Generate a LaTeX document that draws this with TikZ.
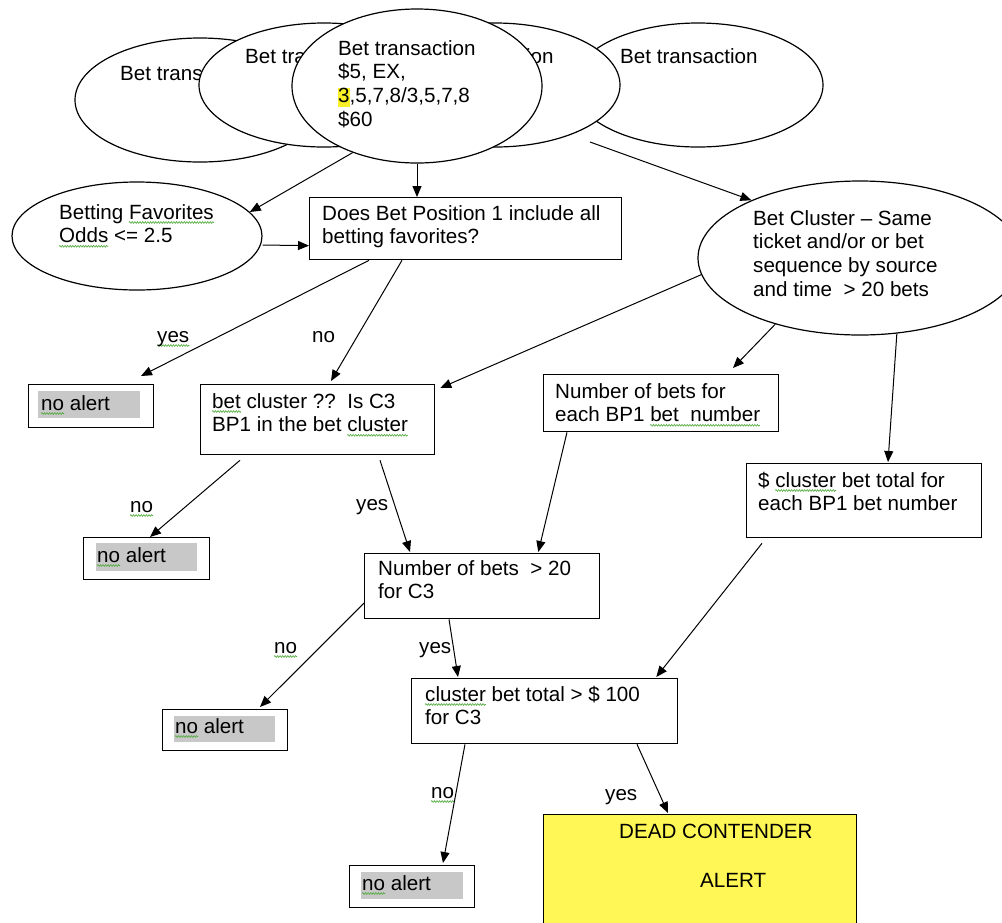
\documentclass[tikz,border=0pt]{standalone}
\usepackage{fontspec}
\setmainfont{Liberation Sans}
\usetikzlibrary{shapes.geometric,arrows.meta,calc,decorations.pathmorphing}
\definecolor{hly}{RGB}{250,240,40}
\definecolor{alerty}{RGB}{255,247,85}
\definecolor{hlgrey}{RGB}{200,200,200}
\definecolor{sqgreen}{RGB}{80,170,60}
\tikzset{
 ell/.style={ellipse, draw, line width=1.2pt, fill=white, inner sep=0pt, minimum width=250pt, minimum height=124pt},
 box/.style={rectangle, draw, line width=1.3pt, inner sep=0pt, anchor=north west},
 txt/.style={anchor=base west, inner sep=0pt, font=\fontsize{20.6}{23.8}\selectfont},
 arr/.style={line width=1pt, -{Triangle[length=11pt,width=9pt]}},
 sqline/.style={sqgreen, line width=0.6pt, decorate, decoration={zigzag, amplitude=0.9pt, segment length=2.6pt}},
}
\newlength\sqw
\newcommand\sq[1]{\settowidth\sqw{#1}\tikz[overlay,baseline=0pt]\draw[sqline](0pt,-3.5pt)--(\sqw,-3.5pt);#1}
\newcommand\hlthree{{\setlength\fboxsep{0pt}\colorbox{hly}{\rule[-4pt]{0pt}{17pt}3}}}
\newcommand\ml[1]{\vtop{\baselineskip=23.8pt\halign{##\hfil\cr#1\crcr}}}
\begin{document}
\begin{tikzpicture}[x={(1pt,0)}, y={(0,-1pt)}]
\useasboundingbox (0,0) rectangle (1002,922);
\clip (0,0) rectangle (1002,922);
% top ellipses
\node[ell] (e1) at (200,100) {};
\node[txt] (t1) at (120,80) {Bet transaction};
\node[ell] (e2) at (324,85) {};
\node[txt] (t2) at (245,63) {Bet transaction};
\node[ell] (e5) at (698,85) {};
\node[txt] (t5) at (620,63) {Bet transaction};
\node[ell] (e4) at (495,85) {};
\node[txt] (t4) at (416,63) {Bet transaction};
\node[ell, minimum height=154pt] (e3) at (417,86) {};
\node[txt] (t3) at (338,55) {\ml{Bet transaction\cr\$5, EX,\cr\hlthree,5,7,8/3,5,7,8\cr\$60}};
% other ellipses
\node[ell, minimum height=108pt] (e6) at (137,236) {};
\node[txt] (t6) at (59,219) {\ml{Betting \sq{Favorites}\cr\sq{Odds} <= 2.5}};
\node[ell, minimum width=324pt, minimum height=154pt] (e7) at (860,258) {};
\node[txt] (t7) at (753,225) {\ml{Bet Cluster \textendash{} Same\cr ticket and/or or bet\cr sequence by source\cr and time\ \ > 20 bets}};
% boxes
\node[box, minimum width=312pt, minimum height=62pt] (does) at (309,197) {};
\node[txt] (tdoes) at (322,220) {\ml{Does Bet Position 1 include all\cr betting favorites?}};
\node[box, minimum width=125pt, minimum height=43pt] (na1) at (28,384) {};
\fill[hlgrey] ($(na1.north west)+(10,7)$) rectangle ($(na1.north west)+(112,34)$);
\node[txt] (tna1) at (41,410) {\sq{no} alert};
\node[box, minimum width=234pt, minimum height=70pt] (betcl) at (200,384) {};
\node[txt] (tbetcl) at (212,408) {\ml{\sq{bet} cluster ??\ \ Is C3\cr BP1 in the bet \sq{cluster}}};
\node[box, minimum width=235pt, minimum height=57pt] (nbp1) at (543,374) {};
\node[txt] (tnbp1) at (555,398) {\ml{Number of bets for\cr each BP1 \sq{bet\ \ number}}};
\node[box, minimum width=235pt, minimum height=74pt] (dol) at (746,463) {};
\node[txt] (tdol) at (758,487) {\ml{\$ \sq{cluster} bet total for\cr each BP1 bet number}};
\node[box, minimum width=126pt, minimum height=42pt] (na2) at (83,537) {};
\fill[hlgrey] ($(na2.north west)+(13,6)$) rectangle ($(na2.north west)+(114,34)$);
\node[txt] (tna2) at (97,562) {\sq{no} alert};
\node[box, minimum width=235pt, minimum height=65pt] (n20) at (364,553) {};
\node[txt] (tn20) at (378,575) {\ml{Number of bets\ \ > 20\cr for C3}};
\node[box, minimum width=125pt, minimum height=41pt] (na3) at (162,709) {};
\fill[hlgrey] ($(na3.north west)+(12,7)$) rectangle ($(na3.north west)+(113,33)$);
\node[txt] (tna3) at (175,733) {\sq{no} alert};
\node[box, minimum width=266pt, minimum height=65pt] (clus) at (411,678) {};
\node[txt] (tclus) at (425,701) {\ml{\sq{cluster} bet total > \$ 100\cr for C3}};
\node[box, minimum width=125pt, minimum height=42pt] (na4) at (349,865) {};
\fill[hlgrey] ($(na4.north west)+(12,7)$) rectangle ($(na4.north west)+(114,34)$);
\node[txt] (tna4) at (362,890) {\sq{no} alert};
\node[box, fill=alerty, minimum width=313pt, minimum height=130pt] (alert) at (543,814) {};
\node[txt] (talert1) at (619,838) {DEAD CONTENDER};
\node[txt] (talert2) at (700,887) {ALERT};
% labels
\node[txt] (l1) at (157,342) {\sq{yes}};
\node[txt] (l2) at (312,342) {no};
\node[txt] (l3) at (130,512) {\sq{no}};
\node[txt] (l4) at (356,510) {yes};
\node[txt] (l5) at (274,653) {\sq{no}};
\node[txt] (l6) at (419,653) {yes};
\node[txt] (l7) at (431,798) {\sq{no}};
\node[txt] (l8) at (605,800) {yes};
% connectors
\coordinate (s1) at (590,142);
\draw[arr] (e3.south) -- (e3.south |- does.north);
\draw[arr] (e3.226) -- (e6.12);
\draw[arr] ($(e6.east)+(0,9)$) -- ($(does.west)+(0,17)$);
\draw[arr] (s1) -- (e7.152);
\draw[arr] ($(does.south west)+(60,0)$) -- ($(na1.north west)+(113,-8)$);
\draw[arr] ($(does.south west)+(93,0)$) -- ($(betcl.north west)+(131,-3)$);
\draw[arr] (e7.186) -- ($(betcl.north east)+(5,4)$);
\draw[arr] (e7.218) -- ($(nbp1.north west)+(190,-6)$);
\draw[arr] (e7.296) -- ($(dol.north west)+(142,-1)$);
\draw[arr] ($(nbp1.south west)+(24,0)$) -- ($(n20.north east)+(-62,-1)$);
\draw[arr] ($(betcl.south west)+(40,5)$) -- ($(na2.north west)+(67,0)$);
\draw[arr] ($(betcl.south west)+(180,5)$) -- ($(n20.north west)+(46,-1)$);
\draw[arr] ($(dol.south west)+(16,5)$) -- ($(clus.north east)+(-22,-1)$);
\draw[arr] ($(n20.west)+(0,17)$) -- ($(na3.north west)+(98,-2)$);
\draw[arr] ($(n20.south west)+(85,0)$) -- ($(clus.north west)+(47,-1)$);
\draw[arr] ($(clus.south west)+(54,0)$) -- ($(na4.north west)+(94,-2)$);
\draw[arr] ($(clus.south west)+(226,0)$) -- ($(alert.north west)+(125,-1)$);
\end{tikzpicture}
\end{document}
